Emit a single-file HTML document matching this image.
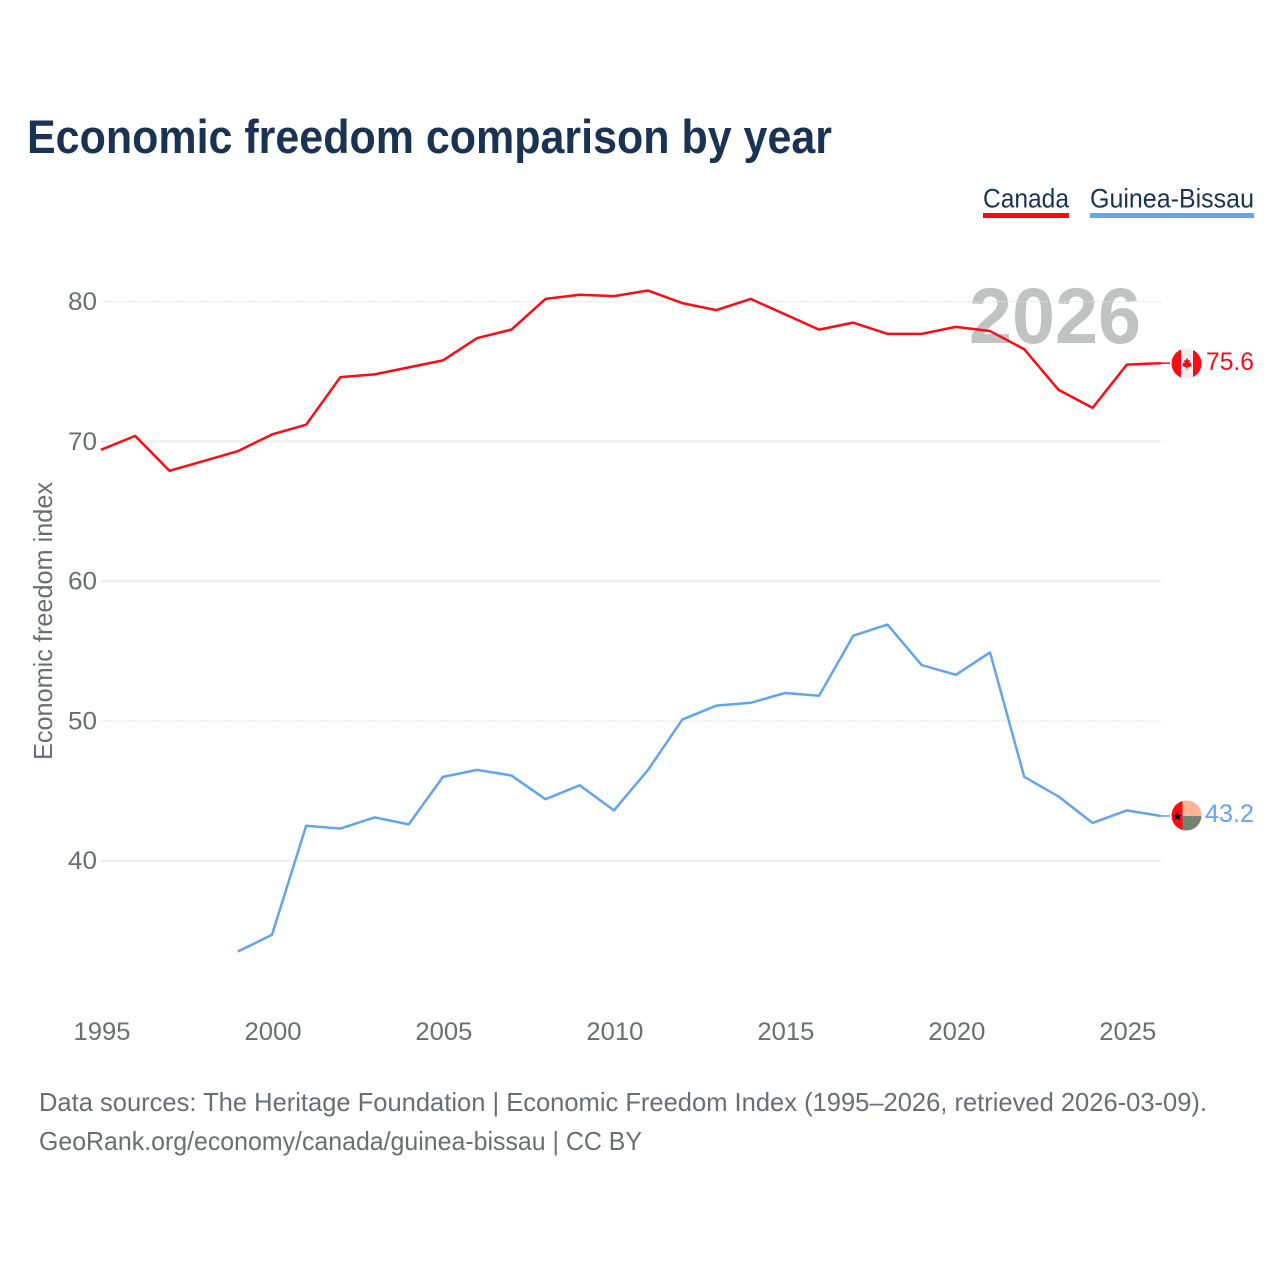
<!DOCTYPE html>
<html lang="en">
<head>
<meta charset="utf-8">
<title>Economic freedom comparison by year</title>
<style>
html,body{margin:0;padding:0;background:#fff;}
svg{display:block;font-family:"Liberation Sans",sans-serif;}
</style>
</head>
<body>
<svg id="chart" xmlns="http://www.w3.org/2000/svg" width="1280" height="1280" viewBox="0 0 1280 1280">
  <defs>
    <clipPath id="clip-ca"><circle cx="1186.500" cy="363.500" r="15"></circle></clipPath>
    <clipPath id="clip-gw"><circle cx="1186.500" cy="815.500" r="15"></circle></clipPath>
  </defs>
  <rect x="0" y="0" width="1280" height="1280" fill="#ffffff"></rect>
  <text x="27" y="153" font-size="47" font-weight="700" fill="#1a3353" textLength="805" lengthAdjust="spacingAndGlyphs">Economic freedom comparison by year</text>

  <g>
    <g>
      <text x="983" y="207.500" font-size="27" fill="#1a3353" textLength="86" lengthAdjust="spacingAndGlyphs">Canada</text>
      <rect x="983" y="213" width="86" height="5" fill="#ff0a12"></rect>
    </g>
    <g>
      <text x="1090" y="207.500" font-size="27" fill="#1a3353" textLength="164" lengthAdjust="spacingAndGlyphs">Guinea-Bissau</text>
      <rect x="1090" y="213" width="164" height="5" fill="#62a5ec"></rect>
    </g>
  </g>

  <text x="969" y="343" font-size="79" font-weight="700" fill="#c1c3c3" textLength="172" lengthAdjust="spacingAndGlyphs">2026</text>

  <g id="grid"></g>
  <g id="y-axis"></g>
  <g id="x-axis"></g>

  <text transform="translate(52,760) rotate(-90)" x="0" y="0" font-size="26" fill="#6a6e72" textLength="278" lengthAdjust="spacingAndGlyphs">Economic freedom index</text>

  <g id="series"></g>

  <g clip-path="url(#clip-ca)">
    <rect x="1171" y="348" width="31" height="31" fill="#f0f0f0"></rect>
    <rect x="1171" y="348" width="10" height="31" fill="#ff0a12"></rect>
    <rect x="1193" y="348" width="9" height="31" fill="#ff0a12"></rect>
    <polygon fill="#e8111a" points="1187,358 1188.500,360.500 1190,360 1189.500,363 1191.500,362.500 1191,364.500 1192,365.500 1188.500,367.500 1187.400,367.500 1187.400,370 1186.600,370 1186.600,367.500 1185.500,367.500 1182,365.500 1183,364.500 1182.500,362.500 1184.500,363 1184,360 1185.500,360.500"></polygon>
  </g>
  <g clip-path="url(#clip-gw)">
    <rect x="1171" y="800" width="11.500" height="31" fill="#ff0a12"></rect>
    <rect x="1182.500" y="800" width="20" height="16" fill="#ffb595"></rect>
    <rect x="1182.500" y="816" width="20" height="15" fill="#768274"></rect>
    <polygon fill="#111111" points="1177.300,811.500 1178.500,814.800 1182,815 1179.300,817.100 1180.200,820.500 1177.300,818.600 1174.400,820.500 1175.300,817.100 1172.600,815 1176.100,814.800"></polygon>
  </g>

  <text x="1206" y="370" font-size="25" fill="#ff0a12" textLength="48" lengthAdjust="spacingAndGlyphs">75.6</text>
  <text x="1205" y="822" font-size="25" fill="#62a5ec" textLength="49" lengthAdjust="spacingAndGlyphs">43.2</text>

  <text x="39" y="1111" font-size="26" fill="#6a6e72" textLength="1168" lengthAdjust="spacingAndGlyphs">Data sources: The Heritage Foundation | Economic Freedom Index (1995–2026, retrieved 2026-03-09).</text>
  <text x="39" y="1150" font-size="26" fill="#6a6e72" textLength="603" lengthAdjust="spacingAndGlyphs">GeoRank.org/economy/canada/guinea-bissau | CC BY</text>
</svg>

<script>
var years = [1995,1996,1997,1998,1999,2000,2001,2002,2003,2004,2005,2006,2007,2008,2009,2010,2011,2012,2013,2014,2015,2016,2017,2018,2019,2020,2021,2022,2023,2024,2025,2026];
var canadaValues = [69.4,70.4,67.9,68.6,69.3,70.5,71.2,74.6,74.8,75.3,75.8,77.4,78.0,80.2,80.5,80.4,80.8,79.9,79.4,80.2,79.1,78.0,78.5,77.7,77.7,78.2,77.9,76.6,73.7,72.4,75.5,75.6];
var guineaBissauValues = [null,null,null,null,33.5,34.7,42.5,42.3,43.1,42.6,46.0,46.5,46.1,44.4,45.4,43.6,46.5,50.1,51.1,51.3,52.0,51.8,56.1,56.9,54.0,53.3,54.9,46.0,44.6,42.7,43.6,43.2];
var yTicks = [40,50,60,70,80];
var xTicks = [1995,2000,2005,2010,2015,2020,2025];

var NS = 'http://www.w3.org/2000/svg';
function xScale(year) { return 101 + (year - 1995) * (1060 / 31); }
function yScale(value) { return 860.7 - (value - 40) * 13.975; }
function make(tag, parent) {
  var el = document.createElementNS(NS, tag);
  document.getElementById(parent).appendChild(el);
  return el;
}

yTicks.forEach(function (t) {
  var line = make('line', 'grid');
  
  
  line.setAttribute('x1', 101);
  line.setAttribute('x2', 1161);
  line.setAttribute('y1', yScale(t));
  line.setAttribute('y2', yScale(t));
  line.setAttribute('stroke', (t === 80 || t === 50) ? '#e2e2e2' : '#eeeeee');
  line.setAttribute('stroke-width', (t === 80 || t === 50) ? 1 : 2);
  if (t === 80 || t === 50) { line.setAttribute('stroke-dasharray', '2 1'); }

  var label = make('text', 'y-axis');
  
  
  label.setAttribute('x', 97);
  label.setAttribute('y', yScale(t) + 8.500);
  label.setAttribute('text-anchor', 'end');
  label.setAttribute('font-size', 25);
  label.setAttribute('fill', '#6a6e72');
  label.setAttribute('textLength', 29);
  label.setAttribute('lengthAdjust', 'spacingAndGlyphs');
  label.textContent = t;
});

xTicks.forEach(function (t) {
  var label = make('text', 'x-axis');
  
  
  label.setAttribute('x', xScale(t) + 1);
  label.setAttribute('y', 1040);
  label.setAttribute('text-anchor', 'middle');
  label.setAttribute('font-size', 25);
  label.setAttribute('fill', '#6a6e72');
  label.setAttribute('textLength', 57);
  label.setAttribute('lengthAdjust', 'spacingAndGlyphs');
  label.textContent = t;
});

function pathFor(values) {
  var d = '';
  values.forEach(function (v, i) {
    if (v === null) { return; }
    d += (d ? 'L' : 'M') + xScale(years[i]).toFixed(2) + ' ' + yScale(v).toFixed(2);
  });
  return d;
}

function lastValue(values) { return values[values.length - 1]; }

var canadaLine = make('path', 'series');


canadaLine.setAttribute('d', pathFor(canadaValues));
canadaLine.setAttribute('fill', 'none');
canadaLine.setAttribute('stroke', '#ff0a12');
canadaLine.setAttribute('stroke-width', 2.5);
canadaLine.setAttribute('stroke-linejoin', 'round');

var guineaLine = make('path', 'series');


guineaLine.setAttribute('d', pathFor(guineaBissauValues));
guineaLine.setAttribute('fill', 'none');
guineaLine.setAttribute('stroke', '#62a5ec');
guineaLine.setAttribute('stroke-width', 2.5);
guineaLine.setAttribute('stroke-linejoin', 'round');

var canadaConnector = make('line', 'series');


canadaConnector.setAttribute('x1', xScale(2026));
canadaConnector.setAttribute('x2', 1170);
canadaConnector.setAttribute('y1', yScale(lastValue(canadaValues)));
canadaConnector.setAttribute('y2', yScale(lastValue(canadaValues)));
canadaConnector.setAttribute('stroke', '#ff0a12');
canadaConnector.setAttribute('stroke-width', 1.5);

var guineaConnector = make('line', 'series');


guineaConnector.setAttribute('x1', xScale(2026));
guineaConnector.setAttribute('x2', 1170);
guineaConnector.setAttribute('y1', yScale(lastValue(guineaBissauValues)));
guineaConnector.setAttribute('y2', yScale(lastValue(guineaBissauValues)));
guineaConnector.setAttribute('stroke', '#62a5ec');
guineaConnector.setAttribute('stroke-width', 1.5);
</script>
</body>
</html>
